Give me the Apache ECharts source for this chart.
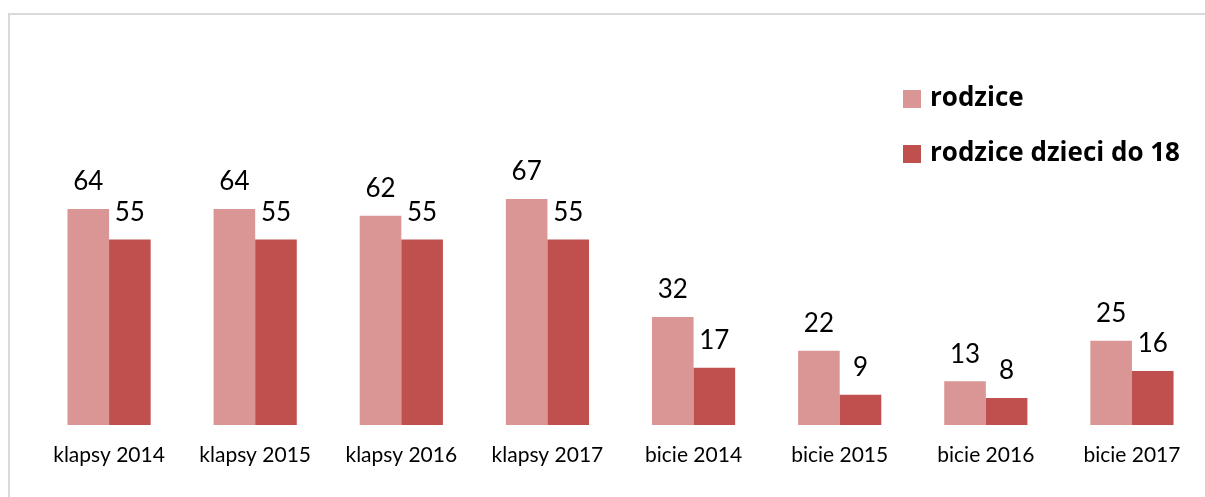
<!DOCTYPE html>
<html>
<head>
<meta charset="utf-8">
<script src="https://cdn.jsdelivr.net/npm/echarts@6/dist/echarts.min.js"></script>
<style>
  html, body { margin: 0; padding: 0; background: #fff; }
  #chart { width: 1205px; height: 497px; }
</style>
</head>
<body>
<div id="chart"></div>
<script>
// dane z wykresu
var categories = ["klapsy 2014", "klapsy 2015", "klapsy 2016", "klapsy 2017", "bicie 2014", "bicie 2015", "bicie 2016", "bicie 2017"];
var seriesNames = ["rodzice", "rodzice dzieci do 18"];
var rodzice = [64, 64, 62, 67, 32, 22, 13, 25];
var rodziceDzieci = [55, 55, 55, 55, 17, 9, 8, 16];

var colors = ["#D99694", "#C0504D"];
var font = "Lato";

function makeBar(name, data, color) {
  return {
    name: name,
    type: "bar",
    data: data,
    barWidth: 41.6,
    barGap: "0%",
    itemStyle: { color: color },
    label: {
      show: true,
      position: "top",
      distance: 14,
      fontFamily: font,
      fontSize: 26,
      color: "#000"
    }
  };
}

var chart = echarts.init(document.getElementById("chart"));
chart.setOption({
  animation: false,
  textStyle: { fontFamily: font },
  graphic: [{
    type: "rect",
    shape: { x: 9, y: 14, width: 1400, height: 700 },
    style: { fill: "none", stroke: "#d9d9d9", lineWidth: 2 },
    z: -1
  }],
  legend: {
    orient: "vertical",
    left: 898,
    top: 81,
    itemWidth: 18,
    itemHeight: 18,
    itemGap: 29,
    icon: "rect",
    data: seriesNames,
    textStyle: {
      fontFamily: "Open Sans",
      fontWeight: "bold",
      fontSize: 26,
      color: "#000",
      padding: [0, 0, 0, 4]
    }
  },
  grid: { left: 36, right: -2, top: 155, bottom: 72 },
  xAxis: {
    type: "category",
    data: categories,
    axisLine: { show: false },
    axisTick: { show: false },
    axisLabel: { fontFamily: font, fontSize: 21, color: "#000", margin: 20 }
  },
  yAxis: {
    type: "value",
    min: 0,
    max: 80,
    show: false,
    splitLine: { show: false }
  },
  series: [
    makeBar(seriesNames[0], rodzice, colors[0]),
    makeBar(seriesNames[1], rodziceDzieci, colors[1])
  ]
});
</script>
</body>
</html>
